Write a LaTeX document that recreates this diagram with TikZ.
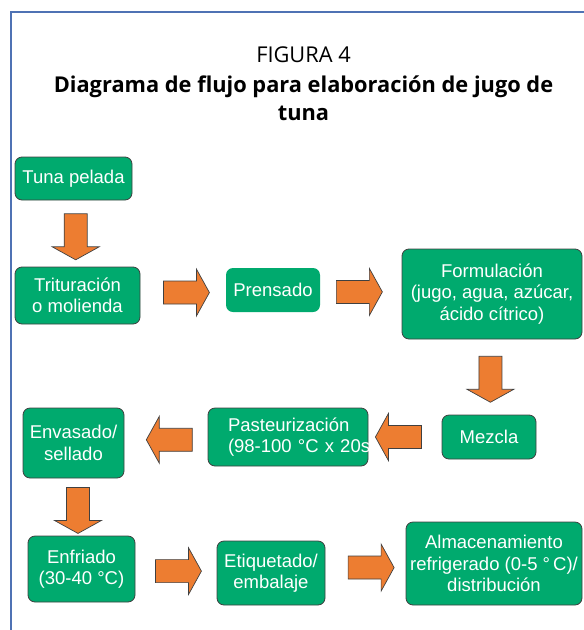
\documentclass[tikz,border=0pt]{standalone}
\usepackage{fontspec}
\setmainfont{Liberation Sans}
\newfontfamily\titulofuente{Open Sans}
\usetikzlibrary{calc}
\definecolor{verde}{RGB}{0,170,110}
\definecolor{naranja}{RGB}{237,125,49}
\definecolor{borde}{RGB}{64,64,64}
\definecolor{marco}{RGB}{79,114,180}
\tikzset{
  caja/.style={rectangle, rounded corners=7pt, fill=verde, draw=borde, line width=0.8pt,
    text=white, align=center, inner sep=0pt, font=\fontsize{18.5}{21.5}\selectfont},
  titulo/.style={anchor=base, font=\titulofuente\fontsize{21.8}{26}\selectfont},
  flecha/.style={fill=naranja, draw=borde, line width=0.7pt, to path={
    let \p1=($(\tikztostart)!#1!(\tikztotarget)$), \p2=($(\tikztotarget)-(\tikztostart)$),
        \n1={round(atan2(\y2,\x2)/90)*90} in
    ($(\p1)+({\n1+180}:23pt)+({\n1+90}:11.5pt)$) -- ($(\p1)+(\n1:10pt)+({\n1+90}:11.5pt)$)
    -- ($(\p1)+(\n1:10pt)+({\n1+90}:23.5pt)$) -- ($(\p1)+(\n1:23pt)$)
    -- ($(\p1)+(\n1:10pt)+({\n1-90}:23.5pt)$) -- ($(\p1)+(\n1:10pt)+({\n1-90}:11.5pt)$)
    -- ($(\p1)+({\n1+180}:23pt)+({\n1-90}:11.5pt)$) -- cycle}},
  flecha/.default=.5
}
\begin{document}
\begin{tikzpicture}[x=1pt,y=-1pt]
\useasboundingbox (0,0) rectangle (584,630);
\draw[marco, line width=1.6pt] (11,630) -- (11,12) -- (584,12);
\node[titulo] (figura) at (303.5,62) {FIGURA 4};
\node[titulo, font=\titulofuente\bfseries\fontsize{21.8}{26}\selectfont] (titulo1) at (303.5,92) {Diagrama de flujo para elaboración de jugo de};
\node[titulo, font=\titulofuente\bfseries\fontsize{21.8}{26}\selectfont] (titulo2) at (303.5,120) {tuna};
\node[caja, minimum width=117pt, minimum height=43pt] (tuna) at (73.5,178.5) {Tuna pelada};
\node[caja, minimum width=125pt, minimum height=57pt] (trit) at (77.5,295.5) {Trituración\\o molienda};
\node[caja, draw=none, minimum width=94pt, minimum height=44pt] (prens) at (273,290) {Prensado};
\node[caja, minimum width=180pt, minimum height=90pt] (formu) at (492,294) {Formulación\\(jugo, agua, azúcar,\\ácido cítrico)};
\node[caja, minimum width=94pt, minimum height=44pt] (mezcla) at (489,437) {Mezcla};
\node[caja, align=left, text width=120pt, minimum width=160pt, minimum height=58pt] (pasteur) at (288,437) {Pasteurización\\\mbox{(98-100 °C x 20s}};
\node[caja, minimum width=101pt, minimum height=70pt] (envas) at (73.5,443) {Envasado/\\sellado};
\node[caja, minimum width=107pt, minimum height=66pt] (enfri) at (81.5,569) {Enfriado\\(30-40 °C)};
\node[caja, minimum width=108pt, minimum height=64pt] (etiq) at (271,573) {Etiquetado/\\embalaje};
\node[caja, minimum width=176pt, minimum height=83pt] (almac) at (494,563.5) {Almacenamiento\\refrigerado (0-5 °\,C)/\\distribución};
\foreach \desde/\hasta/\f in {tuna.south/trit.north/.55, trit.east/prens.west/.54, prens.east/formu.west/.48,
    formu.south/mezcla.north/.53, mezcla.west/pasteur.east/.59, pasteur.west/envas.east/.46,
    envas.south/enfri.north/.56, enfri.east/etiq.west/.53, etiq.east/almac.west/.57}
  \draw[flecha=\f] (\desde) to (\hasta);
\end{tikzpicture}
\end{document}
